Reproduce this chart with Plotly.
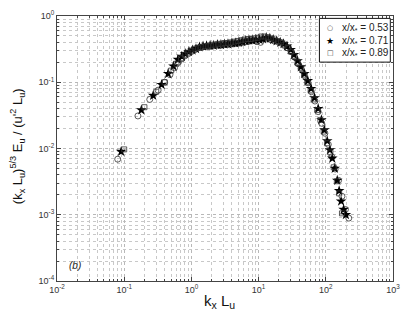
import plotly.graph_objects as go

# ---- data ----
x_c = [0.08,0.16,0.24,0.32,0.40,0.48,0.56,0.64,0.72,0.80,0.90,1.0,1.13,1.27,1.43,1.6,1.8,2.0,2.3,2.6,
       2.9,3.3,3.7,4.2,4.7,5.3,6.0,6.7,7.5,8.5,9.5,10.7,12,13.5,15.2,17,19,21.5,24,27,
       30.5,34,38.5,43,48.5,54.5,61,69,77,87,97,109,123,138,155,174,196,220]
y_c = [0.0069,0.031,0.055,0.076,0.10,0.13,0.165,0.20,0.225,0.25,0.27,0.29,0.31,0.33,0.34,0.345,0.35,0.35,0.36,0.36,
       0.365,0.37,0.37,0.38,0.385,0.39,0.40,0.41,0.42,0.43,0.41,0.40,0.45,0.46,0.44,0.42,0.41,0.39,0.36,0.33,
       0.29,0.24,0.19,0.16,0.125,0.098,0.072,0.052,0.036,0.024,0.017,0.0115,0.0075,0.0049,0.0033,0.0019,0.0012,0.00089]

x_s = [0.09,0.18,0.27,0.36,0.45,0.54,0.63,0.72,0.81,0.92,1.04,1.17,1.32,1.49,1.68,1.9,2.15,2.45,2.75,3.1,
       3.5,4.0,4.5,5.1,5.7,6.4,7.2,8.1,9.1,10.3,11.6,13,14.7,16.5,18.6,21,23.5,26.5,30,33.5,
       38,42.5,48,54,60.5,68,77,86,95,105,115,125,136,148,158,169,184,199]
y_s = [0.0090,0.038,0.063,0.092,0.135,0.175,0.22,0.245,0.27,0.29,0.305,0.32,0.34,0.35,0.355,0.36,0.36,0.37,0.37,0.375,
       0.38,0.39,0.39,0.40,0.41,0.42,0.43,0.43,0.44,0.44,0.45,0.47,0.46,0.44,0.42,0.40,0.38,0.35,0.31,0.26,
       0.21,0.17,0.134,0.105,0.08,0.058,0.04,0.027,0.019,0.013,0.0095,0.0071,0.005,0.0033,0.0023,0.0016,0.0012,0.0010]

x_q = [0.1,0.2,0.3,0.4,0.5,0.6,0.7,0.8,0.9,1.0,1.12,1.25,1.4,1.57,1.76,1.97,2.2,2.5,2.8,3.1,
       3.5,3.9,4.4,4.9,5.5,6.2,6.9,7.7,8.7,9.7,10.9,12.2,13.7,15.3,17.2,19.3,21.6,24.2,27.1,30.3,
       34,38,42.5,47.5,53,59.5,66.5,74.5,83,93,104,117,131,146,158,174]
y_q = [0.0097,0.042,0.072,0.10,0.15,0.19,0.23,0.26,0.28,0.30,0.32,0.33,0.34,0.35,0.35,0.36,0.37,0.38,0.38,0.39,
       0.39,0.40,0.41,0.42,0.43,0.44,0.45,0.45,0.46,0.47,0.49,0.49,0.48,0.46,0.44,0.42,0.40,0.37,0.33,0.29,
       0.25,0.20,0.165,0.13,0.10,0.075,0.055,0.038,0.027,0.018,0.012,0.0087,0.0052,0.0032,0.0021,0.00105]

series_names = ["x/x<sub>*</sub> = 0.53", "x/x<sub>*</sub> = 0.71", "x/x<sub>*</sub> = 0.89"]
legend_glyphs = ["○", "★", "□"]

x_tickvals = [0.01, 0.1, 1, 10, 100, 1000]
x_ticktext = ["10<sup>-2</sup>", "10<sup>-1</sup>", "10<sup>0</sup>", "10<sup>1</sup>", "10<sup>2</sup>", "10<sup>3</sup>"]
y_tickvals = [0.0001, 0.001, 0.01, 0.1, 1]
y_ticktext = ["10<sup>-4</sup>", "10<sup>-3</sup>", "10<sup>-2</sup>", "10<sup>-1</sup>", "10<sup>0</sup>"]

x_title = "k<sub>x</sub> L<sub>u</sub>"
y_title = "(k<sub>x</sub> L<sub>u</sub>)<sup>5/3</sup> E<sub>u</sub> / (u'<sup>2</sup> L<sub>u</sub>)"

FONT = "Liberation Sans, Arial, Helvetica, sans-serif"

fig = go.Figure()
fig.add_trace(go.Scatter(x=x_c, y=y_c, mode="markers", name=series_names[0], showlegend=False,
                         marker=dict(symbol="circle-open", size=6, color="#333", line=dict(width=0.8))))
fig.add_trace(go.Scatter(x=x_s, y=y_s, mode="markers", name=series_names[1], showlegend=False,
                         marker=dict(symbol="star", size=8, color="black", line=dict(width=0))))
fig.add_trace(go.Scatter(x=x_q, y=y_q, mode="markers", name=series_names[2], showlegend=False,
                         marker=dict(symbol="square-open", size=5, color="#333", line=dict(width=0.8))))

minor_x = [k * 10 ** e for e in range(-2, 3) for k in range(2, 10)]
minor_y = [k * 10 ** e for e in range(-4, 0) for k in range(2, 10)]

axis_common = dict(
    type="log", showline=True, linecolor="#444", linewidth=1, mirror="allticks",
    ticks="inside", ticklen=4, tickcolor="#444", tickwidth=0.8,
    showgrid=True, gridcolor="#b8b8b8", griddash="dot", gridwidth=1,
    zeroline=False, tickfont=dict(family=FONT, size=9, color="#333"),
    ticklabeloverflow="allow",
)
fig.update_xaxes(**axis_common, range=[-2, 3], tickvals=x_tickvals, ticktext=x_ticktext,
                 minor=dict(tickvals=minor_x, ticks="inside", ticklen=2, tickcolor="#444",
                            showgrid=True, gridcolor="#c8c8c8", griddash="dot", gridwidth=1))
fig.update_yaxes(**axis_common, range=[-4, 0], tickvals=y_tickvals, ticktext=y_ticktext,
                 minor=dict(tickvals=minor_y, ticks="inside", ticklen=2, tickcolor="#444",
                            showgrid=True, gridcolor="#c8c8c8", griddash="dot", gridwidth=1))

# axis titles
fig.add_annotation(text=x_title, xref="paper", yref="paper", x=0.484, y=-0.078,
                   xanchor="center", yanchor="middle", showarrow=False,
                   font=dict(family=FONT, size=15, color="#111"))
fig.add_annotation(text=y_title, xref="paper", yref="paper", x=-0.118, y=0.51, textangle=-90,
                   xanchor="center", yanchor="middle", showarrow=False,
                   font=dict(family=FONT, size=13, color="#111"))

fig.add_annotation(text="<i>(b)</i>", xref="paper", yref="paper", x=0.03, y=0.03,
                   xanchor="left", yanchor="bottom", showarrow=False,
                   font=dict(family=FONT, size=10, color="#222"))

# legend box (drawn like the reference: compact, black frame)
fig.add_shape(type="rect", xref="paper", yref="paper", x0=0.781, x1=0.992, y0=0.826, y1=0.991,
              line=dict(color="#111", width=1), fillcolor="white", layer="above")
leg_y = [0.956, 0.907, 0.859]
glyph_sizes = [7, 9, 7]
glyph_colors = ["#444", "black", "#444"]
for i in range(3):
    fig.add_annotation(text=legend_glyphs[i], xref="paper", yref="paper", x=0.813, y=leg_y[i],
                       xanchor="center", yanchor="middle", showarrow=False,
                       font=dict(family="DejaVu Sans", size=glyph_sizes[i], color=glyph_colors[i]))
    fig.add_annotation(text=series_names[i], xref="paper", yref="paper", x=0.843, y=leg_y[i],
                       xanchor="left", yanchor="middle", showarrow=False,
                       font=dict(family=FONT, size=10, color="#222"))

fig.update_layout(
    width=409, height=315,
    margin=dict(l=57, r=9, t=11, b=34),
    paper_bgcolor="white", plot_bgcolor="white",
    font=dict(family=FONT, color="#222"),
    showlegend=False,
)

# remove the browser's default page margin so the figure fills the 409x315 window
fig.write_html("out.html", config={"displayModeBar": False},
               post_script="document.body.style.margin='0';")
